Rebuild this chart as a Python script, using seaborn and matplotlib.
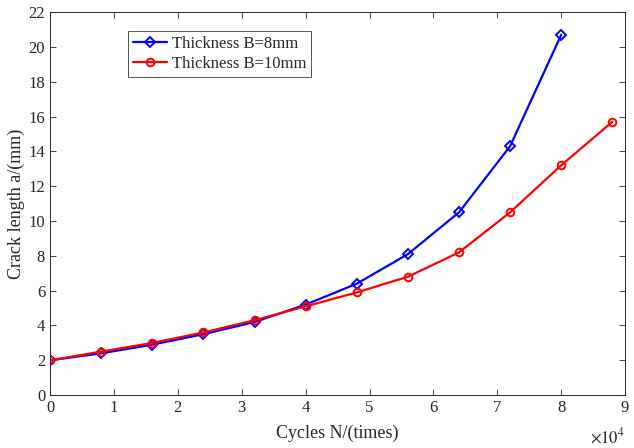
import numpy as np
import pandas as pd
import matplotlib
matplotlib.use('Agg')
import matplotlib.pyplot as plt
import seaborn as sns
from matplotlib.ticker import FuncFormatter

# data
cycles_8mm = [0, 8000, 16000, 24000, 32000, 40000, 48000, 56000, 64000, 72000, 80000]
crack_8mm = [2.0, 2.4, 2.9, 3.5, 4.2, 5.2, 6.4, 8.1, 10.5, 14.3, 20.7]
cycles_10mm = [0, 8000, 16000, 24000, 32000, 40000, 48000, 56000, 64000, 72000, 80000, 88000]
crack_10mm = [2.0, 2.5, 3.0, 3.6, 4.3, 5.1, 5.9, 6.8, 8.2, 10.5, 13.2, 15.7]
labels = ['Thickness B=8mm', 'Thickness B=10mm']

df8 = pd.DataFrame({'N': cycles_8mm, 'a': crack_8mm})
df10 = pd.DataFrame({'N': cycles_10mm, 'a': crack_10mm})

sns.set_style('ticks')
plt.rcParams['font.family'] = ['Liberation Serif', 'DejaVu Serif']
plt.rcParams['mathtext.fontset'] = 'stix'
plt.rcParams['xtick.direction'] = 'in'
plt.rcParams['ytick.direction'] = 'in'

fig = plt.figure(figsize=(6.34, 4.48), dpi=100)
ax = fig.add_axes([0.079, 0.118, 0.907, 0.855])

sns.lineplot(data=df8, x='N', y='a', ax=ax, color='#0000ff', linewidth=1.6,
             marker='D', markersize=5, markerfacecolor='none',
             markeredgecolor='#0000ff', markeredgewidth=1.4, label=labels[0])
sns.lineplot(data=df10, x='N', y='a', ax=ax, color='#ff0000', linewidth=1.6,
             marker='o', markersize=5.5, markerfacecolor='none',
             markeredgecolor='#ff0000', markeredgewidth=1.4, label=labels[1])

ax.set_xlim(0, 90000)
ax.set_ylim(0, 22)
ax.set_xticks(np.arange(0, 90001, 10000))
ax.set_yticks(np.arange(0, 23, 2))
ax.xaxis.set_major_formatter(FuncFormatter(lambda v, p: f'{v / 1e4:g}'))
ax.tick_params(axis='both', labelsize=12, length=4, width=0.6, colors='#262626',
               top=True, right=True)
# MATLAB-style exponent label under the right end of the x axis
ax.text(1.0, -0.083, r'$\times 10^{4}$', transform=ax.transAxes, fontsize=12,
        ha='right', va='top', color='#262626')

for s in ax.spines.values():
    s.set_linewidth(0.7)
    s.set_color('#262626')

ax.set_xlabel('Cycles N/(times)', fontsize=13, labelpad=6)
ax.set_ylabel('Crack length a/(mm)', fontsize=13)
ax.yaxis.set_label_coords(-0.043, 0.5)

leg = ax.legend(loc='upper left', bbox_to_anchor=(0.136, 0.95), fontsize=12,
                frameon=True, fancybox=False, edgecolor='#262626',
                handlelength=2.0, handletextpad=0.3, borderpad=0.3,
                labelspacing=0.2, borderaxespad=0)
leg.get_frame().set_linewidth(0.7)

fig.savefig('out.png', dpi=100)
